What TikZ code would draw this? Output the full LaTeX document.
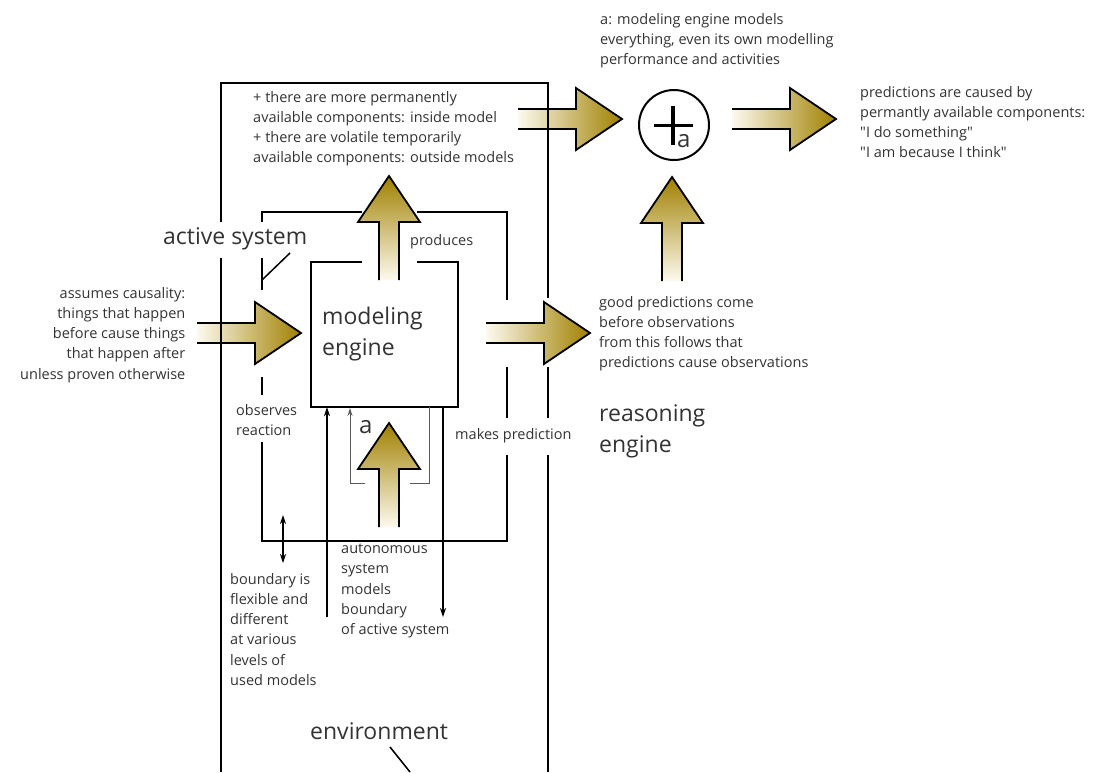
\documentclass[tikz,border=0pt]{standalone}
\usepackage{fontspec}
\setmainfont{Open Sans}
\usepackage{tikz}
\usetikzlibrary{arrows.meta}

\definecolor{golddark}{RGB}{160,128,0}
\definecolor{goldlight}{RGB}{253,250,238}
\definecolor{textgray}{RGB}{51,51,51}

% fat gold arrows, tail point given
\newcommand{\fatright}[2]{%
  \draw[fat, left color=goldlight, right color=golddark]
    (#1,#2-10) -- (#1+58,#2-10) -- (#1+58,#2-31) -- (#1+104,#2)
    -- (#1+58,#2+31) -- (#1+58,#2+10) -- (#1,#2+10);}
\newcommand{\fatup}[2]{%
  \draw[fat, bottom color=goldlight, top color=golddark]
    (#1-10,#2) -- (#1-10,#2-58) -- (#1-31,#2-58) -- (#1,#2-104)
    -- (#1+31,#2-58) -- (#1+10,#2-58) -- (#1+10,#2);}

\begin{document}
\begin{tikzpicture}[
        x=1pt, y=-1pt,
        line/.style={line width=2pt},
        fat/.style={line width=1.8pt, line join=miter},
        thinarrow/.style={line width=1.1pt, -{Stealth[length=9pt,width=6pt]}},
        bracket/.style={line width=1pt, draw=black!65},
        note/.style={inner sep=0pt, align=left, text=textgray,
            font=\fontsize{14.5}{20.2}\selectfont},
        big/.style={inner sep=0pt, align=left, text=textgray,
            font=\fontsize{23}{31}\selectfont},
        letter/.style={inner sep=0pt, anchor=base west, text=textgray,
            font=\fontsize{24}{24}\selectfont}
    ]
    \useasboundingbox (0,0) rectangle (1101,772);

    % Fat arrows
    \fatright{197}{333}
    \fatright{486}{333}
    \fatright{518}{119}
    \fatright{732}{119}
    \fatup{389}{280}
    \fatup{389}{527}
    \fatup{672}{281}

    % Environment frame
    \draw[line] (221,772) -- (221,258);
    \draw[line] (221,222) -- (221,83) -- (548,83) -- (548,298);
    \draw[line] (548,367) -- (548,418);
    \draw[line] (548,455) -- (548,772);

    % Active system frame
    \draw[line] (262,222) -- (262,212) -- (362,212);
    \draw[line] (417,212) -- (507,212) -- (507,300);
    \draw[line] (507,367) -- (507,418);
    \draw[line] (507,455) -- (507,541) -- (262,541) -- (262,442);
    \draw[line] (262,395) -- (262,377);
    \draw[line] (262,290) -- (262,258);

    % Modeling engine
    \node[minimum width=147pt, minimum height=145pt, inner sep=0pt] (engine) at (384.5,334.5) {};
    \draw[line] (362,262) -- (311,262) -- (311,407) -- (458,407) -- (458,262) -- (417,262);

    % Leaders
    \draw[line width=1.5pt] (262,280) -- (290,253);
    \draw[line width=1.5pt] (390,747) -- (410,772);

    % Thin arrows
    \coordinate (obsfoot) at (327,617);
    \coordinate (predfoot) at (443,617);
    \draw[thinarrow] (obsfoot) -- (obsfoot |- engine.south);
    \draw[thinarrow] (predfoot |- engine.south) -- (predfoot);
    \coordinate (bndtop) at (283,515);
    \coordinate (bndbot) at (283,563);
    \draw[thinarrow, {Stealth[length=9pt,width=6pt]}-{Stealth[length=9pt,width=6pt]}] (bndtop) -- (bndbot);

    % self model bracket
    \draw[bracket, -{Stealth[length=8pt,width=5pt]}] (365,483) -- (350,483) -- (350,408);
    \draw[bracket] (410,483) -- (429,483) -- (429,407);
    \node[letter] (selfa) at (359,433) {a};

    % Sum circle
    \node[circle, draw, line width=2pt, minimum size=70pt, inner sep=0pt] (sum) at (674,125) {};
    \draw[line width=3pt] (654,125) -- (693,125);
    \draw[line width=4pt] (673,106) -- (673,145);
    \node[letter] (suma) at (677,147) {a};

    % Texts
    \node[note, anchor=north west] (selfnote) at (600,13) {%
    a: modeling engine models\\
    everything, even its own modelling\\
    performance and activities};

    \node[note, anchor=north west] (causenote) at (860,86) {%
    predictions are caused by\\
    permantly available components:\\
    \textquotedbl I do something\textquotedbl\\
    \textquotedbl I am because I think\textquotedbl};

    \node[note, anchor=north west] (compnote) at (253,91) {%
    + there are more permanently\\
    available components: inside model\\
    + there are volatile temporarily\\
    available components: outside models};

    \node[note, anchor=north west] (produces) at (410,234) {produces};

    \node[note, anchor=north east, align=right] (causality) at (185.5,287) {%
    assumes causality:\\
    things that happen\\
    before cause things\\
    that happen after\\
    unless proven otherwise};

    \node[note, anchor=north west] (goodpred) at (599,296) {%
    good predictions come\\
    before observations\\
    from this follows that\\
    predictions cause observations};

    \node[note, anchor=north west] (observes) at (236,404) {observes\\reaction};
    \node[note, anchor=north west] (makes) at (455,428) {makes prediction};

    \node[note, anchor=north west] (autonomous) at (341,544) {%
    autonomous\\
    system\\
    models\\
    boundary\\
    of active system};

    \node[note, anchor=north west] (flexible) at (230,573) {%
    boundary is\\
    flexible and\\
    different\\
    at various\\
    levels of\\
    used models};

    \node[big, anchor=north west] (activesys) at (163,227) {active system};
    \node[big, anchor=north west] (modeling) at (322,307) {modeling\\engine};
    \node[big, anchor=north west] (reasoning) at (599,404) {reasoning\\engine};
    \node[big, anchor=north west] (environ) at (310,722) {environment};

\end{tikzpicture}
\end{document}
